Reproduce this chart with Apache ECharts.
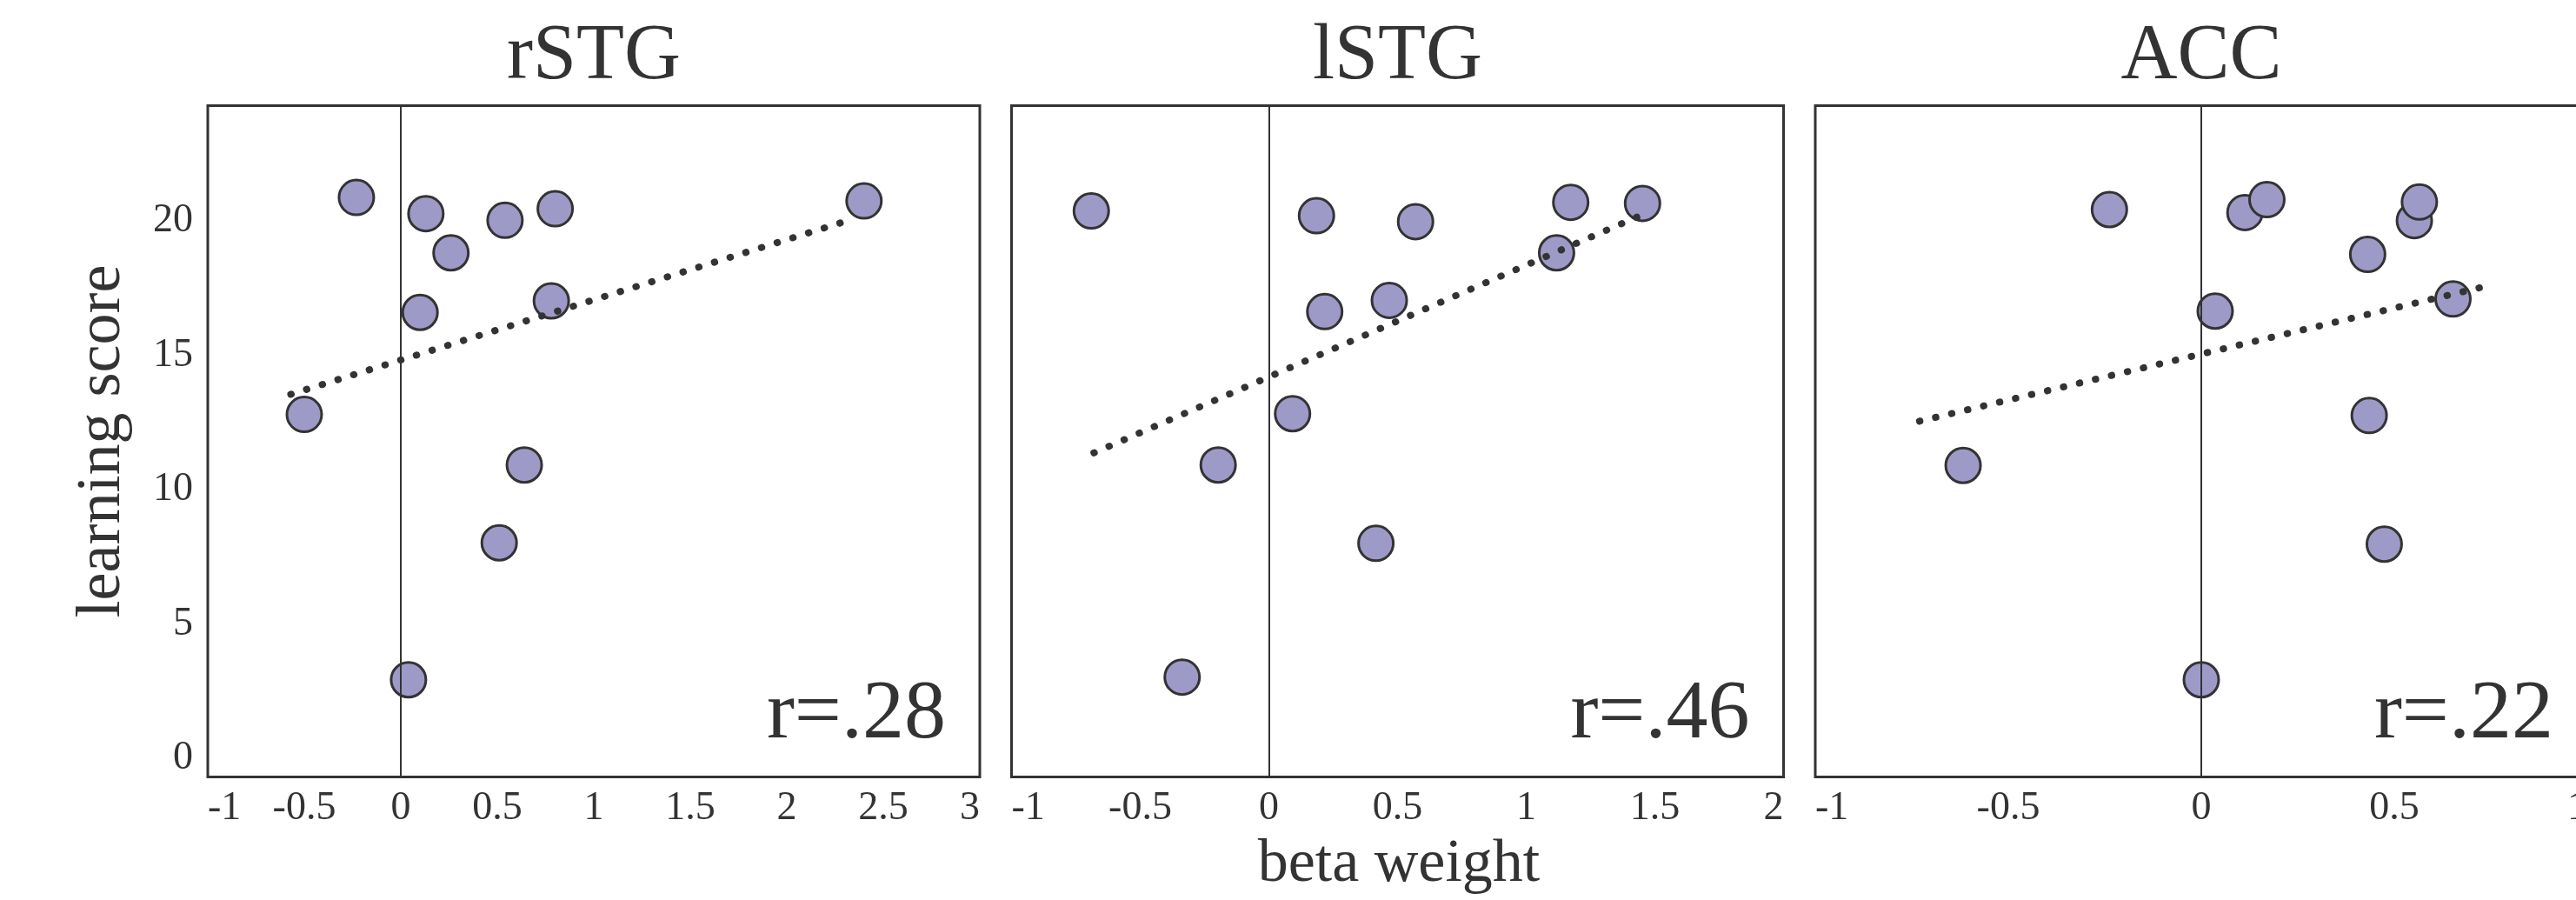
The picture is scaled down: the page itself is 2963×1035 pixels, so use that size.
<!DOCTYPE html>
<html>
<head>
<meta charset="utf-8">
<script src="https://cdn.jsdelivr.net/npm/echarts@6/dist/echarts.min.js"></script>
<style>
html,body{margin:0;padding:0;background:#fff;overflow:hidden;width:2963px;height:1035px;}
#chart{width:2990px;height:1035px;}
</style>
</head>
<body>
<div id="chart"></div>
<script>
// ---- data ----
const panelTitles = ['rSTG', 'lSTG', 'ACC'];
const rValues = ['r=.28', 'r=.46', 'r=.22'];

const rstgX = [-0.23, 0.13, 0.26, 0.54, 0.80, 2.40, 0.10, 0.78, -0.50, 0.64, 0.51, 0.04];
const rstgY = [20.88, 20.28, 18.82, 20.03, 20.46, 20.75, 16.60, 17.03, 12.80, 10.92, 8.02, 2.92];

const lstgX = [-0.69, 0.185, 0.57, 1.173, 1.452, 1.118, 0.217, 0.468, 0.092, -0.197, 0.416, -0.337];
const lstgY = [20.38, 20.20, 19.98, 20.70, 20.66, 18.82, 16.63, 17.05, 12.83, 10.92, 8.00, 3.02];

const accX = [-0.238, 0.113, 0.170, 0.552, 0.565, 0.431, 0.036, 0.652, 0.435, -0.617, 0.474, 0.0];
const accY = [20.43, 20.32, 20.80, 20.02, 20.71, 18.76, 16.65, 17.10, 12.76, 10.90, 7.97, 2.92];

// dotted trend lines (end points)
const rstgFit = [[-0.57, 13.55], [2.33, 20.05]];
const lstgFit = [[-0.68, 11.37], [1.43, 20.15]];
const accFit  = [[-0.73, 12.55], [0.73, 17.55]];

const xMins = [-1, -1, -1];
const xMaxs = [3, 2, 1];
const xInterval = 0.5;
const yMin = -0.7, yMax = 24.3;
const yTicks = [0, 5, 10, 15, 20];

const xLabelName = 'beta weight';
const yLabelName = 'learning score';

// ---- build ----
const FONT = '"Liberation Serif", "Times New Roman", serif';
const INK = '#333';
const FILL = '#9e9ac8';

const gridLefts = [239, 1163.5, 2088];
const gridW = 888, gridTop = 121.5, gridH = 772;

const xs = [rstgX, lstgX, accX], ys = [rstgY, lstgY, accY];
const fits = [rstgFit, lstgFit, accFit];

const grids = [], xAxes = [], yAxes = [], series = [], graphics = [];
for (let i = 0; i < 3; i++) {
  grids.push({left: gridLefts[i], width: gridW, top: gridTop, height: gridH,
    show: true, borderColor: INK, borderWidth: 3, backgroundColor: 'transparent', containLabel: false});
  xAxes.push({type: 'value', gridIndex: i, min: xMins[i], max: xMaxs[i], interval: xInterval,
    axisLine: {show: false}, axisTick: {show: false}, splitLine: {show: false},
    axisLabel: {show: true, fontFamily: FONT, fontSize: 46, lineHeight: 46, color: INK, margin: 13,
      alignMinLabel: 'left', alignMaxLabel: 'right'}});
  yAxes.push({type: 'value', gridIndex: i, min: yMin, max: yMax,
    axisLine: {show: false}, axisTick: {show: false}, splitLine: {show: false},
    axisLabel: {show: i === 0, fontFamily: FONT, fontSize: 46, color: INK, margin: 17,
      customValues: yTicks}});
  const pts = xs[i].map((x, k) => [x, ys[i][k]]);
  series.push({type: 'scatter', xAxisIndex: i, yAxisIndex: i, data: pts, z: 3,
    symbol: 'circle', symbolSize: 40,
    itemStyle: {color: FILL, borderColor: INK, borderWidth: 3, opacity: 1},
    markLine: {silent: true, symbol: ['none', 'none'], label: {show: false}, animation: false,
      lineStyle: {color: INK, width: 2, type: 'solid'}, emphasis: {disabled: true},
      data: [{xAxis: 0}]}});
  series.push({type: 'line', xAxisIndex: i, yAxisIndex: i, data: fits[i], z: 4,
    symbol: 'none', silent: true,
    lineStyle: {color: INK, width: 8, type: [0.5, 18.4], cap: 'round'}});
  graphics.push({type: 'text', x: gridLefts[i] + gridW / 2, y: 66.6,
    style: {text: panelTitles[i], font: '90px ' + FONT, fill: INK,
      align: 'center', textAlign: 'center', verticalAlign: 'middle', textVerticalAlign: 'middle'}});
  graphics.push({type: 'text', x: gridLefts[i] + gridW - 39, y: 822.5,
    style: {text: rValues[i], font: '96px ' + FONT, fill: INK,
      align: 'right', textAlign: 'right', verticalAlign: 'middle', textVerticalAlign: 'middle'}});
}
graphics.push({type: 'text', x: 1609, y: 994.4,
  style: {text: xLabelName, font: '70px ' + FONT, fill: INK,
    align: 'center', textAlign: 'center', verticalAlign: 'middle', textVerticalAlign: 'middle'}});
graphics.push({type: 'text', x: 118, y: 507.5, rotation: Math.PI / 2,
  style: {text: yLabelName, font: '72px ' + FONT, fill: INK,
    align: 'center', textAlign: 'center', verticalAlign: 'middle', textVerticalAlign: 'middle'}});

const chart = echarts.init(document.getElementById('chart'), null, {renderer: 'canvas'});
chart.setOption({
  animation: false,
  backgroundColor: '#fff',
  grid: grids, xAxis: xAxes, yAxis: yAxes, series: series,
  graphic: {elements: graphics}
});
</script>
</body>
</html>
